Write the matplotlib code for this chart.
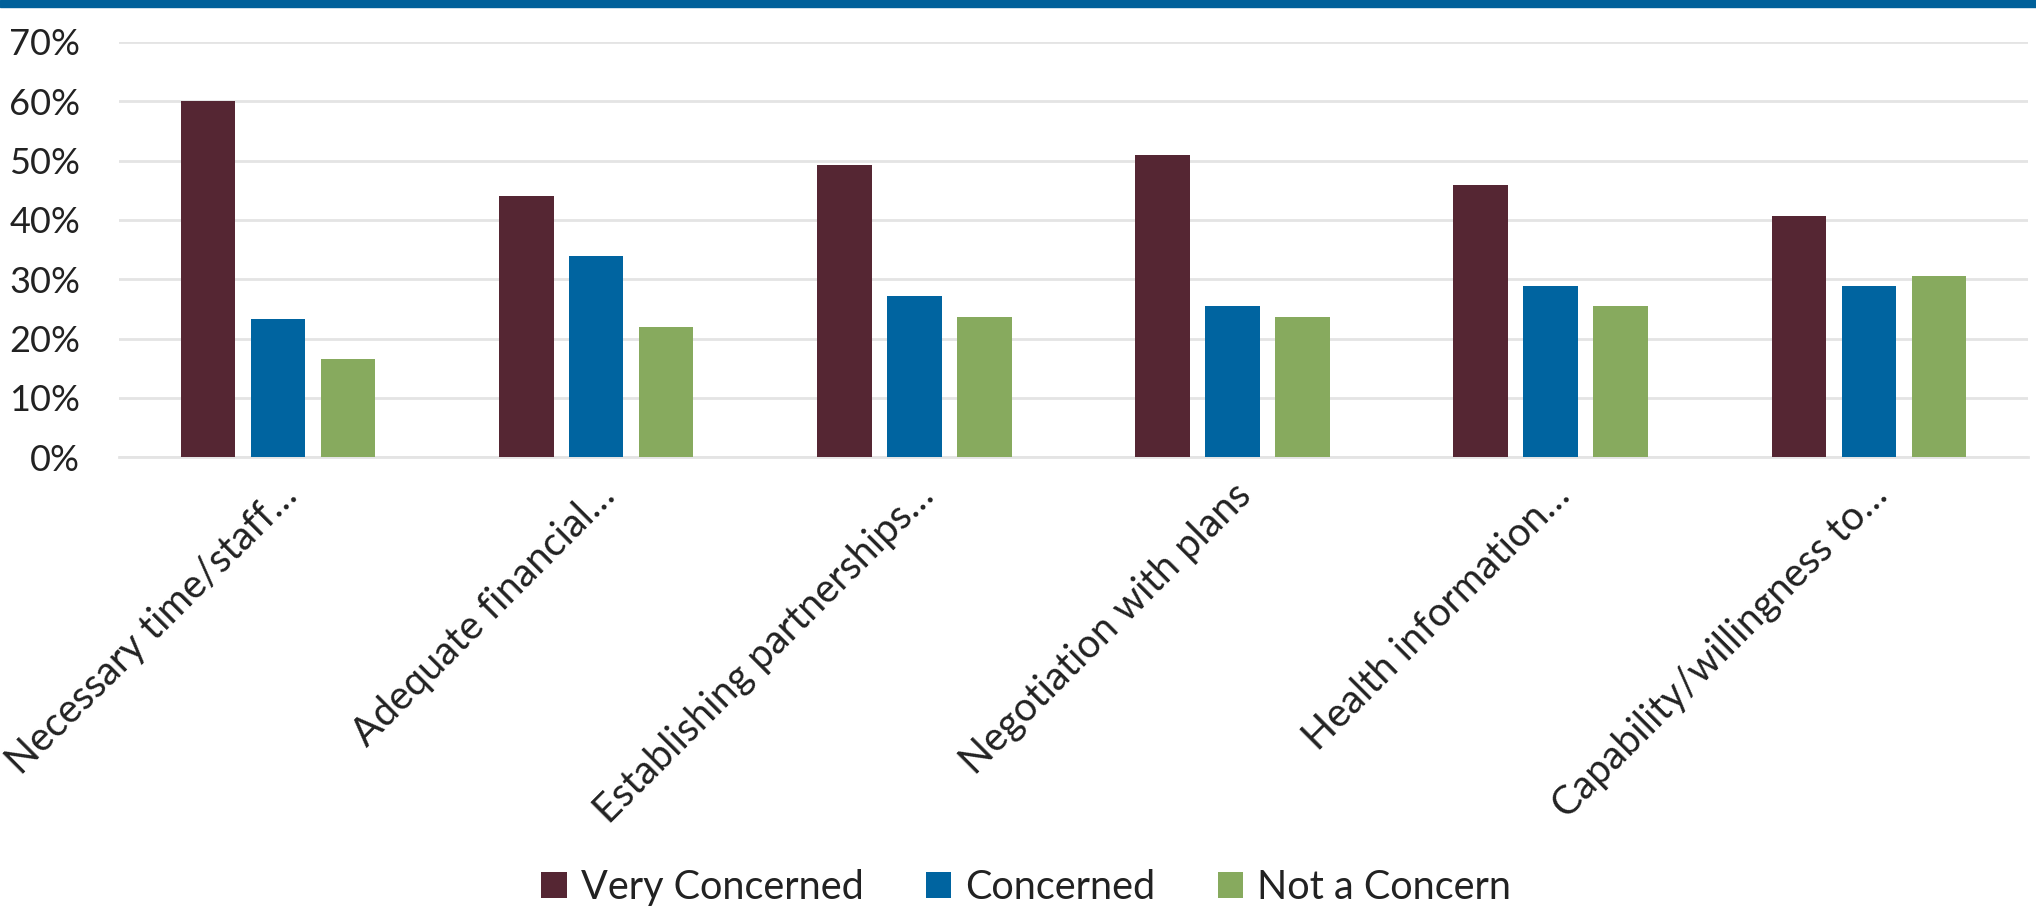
import numpy as np
import matplotlib
matplotlib.use("Agg")
from matplotlib import pyplot as plt
from matplotlib.patches import Rectangle
from matplotlib.transforms import ScaledTranslation

categories = ["Necessary time/staff\u2026", "Adequate financial\u2026", "Establishing partnerships\u2026",
              "Negotiation with plans", "Health information\u2026", "Capability/willingness to\u2026"]
series_names = ["Very Concerned", "Concerned", "Not a Concern"]
very_concerned = [60.0, 44.0, 49.2, 50.9, 45.8, 40.7]
concerned = [23.3, 33.9, 27.2, 25.4, 28.8, 28.8]
not_a_concern = [16.6, 22.0, 23.6, 23.6, 25.4, 30.5]
colors = ["#552633", "#0064A0", "#87AA5E"]

plt.rcParams['font.family'] = ['Lato', 'DejaVu Sans']
text_color = '#222222'

fig = plt.figure(figsize=(20.36, 9.09), dpi=100)
ax = fig.add_axes([0.0585, 0.497, 0.9375, 0.457])

x = np.arange(len(categories))
width = 0.171
step = 0.22
for i, (vals, name) in enumerate(zip([very_concerned, concerned, not_a_concern], series_names)):
    ax.bar(x + (i - 1) * step, np.array(vals) / 100, width, color=colors[i], label=name, zorder=3)

ax.set_xlim(-0.5, len(categories) - 0.5)
ax.set_ylim(0, 0.7)
ax.set_yticks(np.arange(0, 0.71, 0.1))
ax.set_yticklabels([f"{int(round(v * 100))}%" for v in np.arange(0, 0.71, 0.1)], fontsize=26, color=text_color)
ax.yaxis.grid(True, color='#E4E4E4', linewidth=2, zorder=0)
ax.set_xticks(x)
ax.set_xticklabels(categories, rotation=45, ha='right', va='top', rotation_mode='anchor',
                   fontsize=28.5, color=text_color)
shift = ScaledTranslation(10 / 100, 0, fig.dpi_scale_trans)
for lbl in ax.get_xticklabels():
    lbl.set_transform(lbl.get_transform() + shift)
ax.tick_params(axis='both', length=0)
ax.tick_params(axis='y', pad=28)
ax.tick_params(axis='x', pad=14)
for s in ax.spines.values():
    s.set_visible(False)
ax.spines['bottom'].set_visible(True)
ax.spines['bottom'].set_color('#E4E4E4')
ax.spines['bottom'].set_linewidth(2)

# blue band on top
fig.patches.append(Rectangle((0, 1 - 7 / 909), 1, 7 / 909, transform=fig.transFigure,
                             color='#00609A', zorder=5))

fig.legend(loc='center', bbox_to_anchor=(0.504, 0.024), ncol=3, frameon=False,
           fontsize=28.5, handlelength=0.65, handleheight=0.65, handletextpad=0.35,
           columnspacing=1.57, labelcolor=text_color)

fig.savefig("out.png", dpi=100)
